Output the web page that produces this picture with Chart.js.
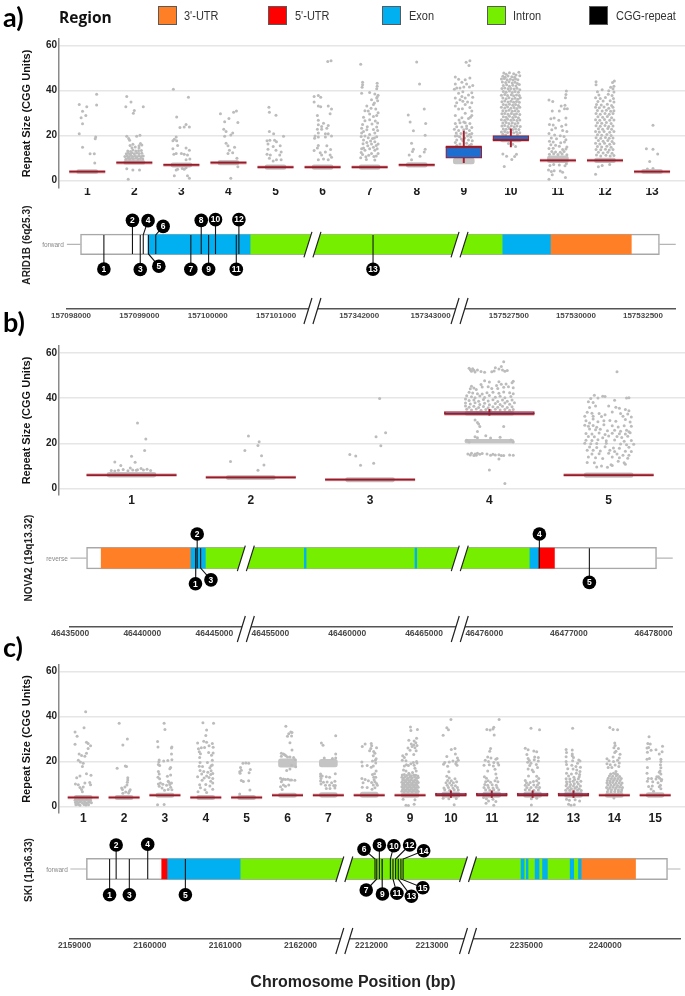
<!DOCTYPE html>
<html><head><meta charset="utf-8">
<script src="https://cdn.jsdelivr.net/npm/chart.js@4/dist/chart.umd.min.js"></script>
<style>
html,body{margin:0;padding:0;background:#fff;width:685px;height:996px;overflow:hidden}
#wrap{position:relative;width:685px;height:996px;font-family:"Liberation Sans",Arial,sans-serif;filter:blur(.35px)}
canvas{position:absolute;left:0;background:transparent}
.t{position:absolute;white-space:nowrap;color:#111}
.p{font-family:Lato,sans-serif;font-weight:700;font-size:27px;left:3px;color:#000}
.sw{position:absolute;top:6px;width:17px;height:17px;border:1px solid #5a5a5a;box-sizing:content-box}
.lg{position:absolute;top:9px;font-size:11px;color:#333;transform:scaleY(1.15)}
.g{font-weight:700;font-size:10px;transform:translate(-50%,-50%) rotate(-90deg);color:#222;letter-spacing:.1px}
.s{font-size:6.5px;color:#888;transform:translate(-50%,-50%)}
</style></head><body><div id="wrap">
<div class="t p" style="top:0px">a)</div>
<div class="t p" style="top:305px">b)</div>
<div class="t p" style="top:630px">c)</div>
<div class="t" style="left:59px;top:6px;font-weight:700;font-size:15.5px;font-family:'Open Sans',sans-serif">Region</div>
<div class="sw" style="left:158px;background:#ff7f27"></div><div class="lg" style="left:184px">3'-UTR</div>
<div class="sw" style="left:268px;background:#ff0000"></div><div class="lg" style="left:295px">5'-UTR</div>
<div class="sw" style="left:382px;background:#00b0f0"></div><div class="lg" style="left:409px">Exon</div>
<div class="sw" style="left:487px;background:#76ee00"></div><div class="lg" style="left:513px">Intron</div>
<div class="sw" style="left:589px;background:#000"></div><div class="lg" style="left:616px">CGG-repeat</div>
<div class="t g" style="left:26px;top:245px">ARID1B (6q25.3)</div>
<div class="t g" style="left:28px;top:558px">NOVA2 (19q13.32)</div>
<div class="t g" style="left:28px;top:870px">SKI (1p36.33)</div>
<div class="t s" style="left:53px;top:244px">forward</div>
<div class="t s" style="left:57px;top:558px">reverse</div>
<div class="t s" style="left:57px;top:869px">forward</div>
<div class="t" style="left:353px;top:982px;transform:translate(-50%,-50%);font-weight:700;font-size:16px;color:#222">Chromosome Position (bp)</div>
</div>
<script>
/* ---------- colours of regions ---------- */
const regionColors={utr3:'#ff7f27',utr5:'#ff0000',exon:'#00b0f0',intron:'#76ee00'};

/* ---------- panel a: repeat sizes (offset within category, value) ---------- */
const aCategories=[1,2,3,4,5,6,7,8,9,10,11,12,13];
const aMedian=[4,8,7,8,6,6,6,7,15,18,9,9,4];
const aBoxCat=[9,10], aBoxLow=[10,18], aBoxHigh=[15,20], aWhiskLow=[8,15], aWhiskHigh=[22,23];
const aBandCat=[1,2,3,4,5,6,7,8,9,10,11,12,13], aBandLow=[3.2,7.3,6,7,5,5,5,6,7.5,17.2,8,8,3.2], aBandHigh=[4.9,9,7.9,9,7,7,7,8,10,19.5,11,10,5];
const a1=[.2,38.4,-.17,33.9,.2,33.6,-.01,32.8,-.1,30.8,-.03,29,-.13,28,-.1,25.3,-.17,20.8,.18,19.4,.17,18.6,-.1,14.9,.06,12,.15,12,.16,7.9];
const a2=[-.16,37.4,-.07,35,-.18,32.9,.19,32.8,0,31.2,-.02,30,-.16,19.7,-.12,18.7,-.1,18,.05,19.7,.12,20.2,-.16,5.3,-.03,4.8,.11,4.8,-.13,.6,
-.18,9.5,-.14,10,-.1,9.5,-.06,10,-.02,9.6,.03,10,.08,9.5,.13,9.9,.18,9.6,-.2,10.8,-.15,11,-.11,10.6,-.07,11.2,-.03,10.7,.02,11,.06,10.6,.1,11.1,.15,10.7,.19,11,
-.17,12,-.13,12.2,-.09,11.8,-.05,12.4,0,12,.05,12.3,.1,12.1,.16,12.2,-.14,13.2,-.08,13,-.03,13.6,.03,13.2,.09,13.3,.15,13.4,-.05,14.6,.1,14.5,.02,15,.16,15.8,.1,15.5,-.09,15.6,-.03,16.2,.13,16.5];
const a3=[-.17,40.6,.15,37.1,-.1,28.3,.1,25,.06,23.9,-.03,23.6,.17,23.8,-.11,19.4,-.15,18.4,-.18,17.7,-.1,17.7,-.08,15.6,-.18,14.2,.1,14.5,.17,13.5,-.11,12.1,-.16,11.8,0,12.1,.06,11.7,.13,11.4,.18,9.6,.1,9.3,-.11,4.8,-.08,5.1,.06,5.1,.1,5.8,-.15,2.2,.13,2.2,.17,1.1,.02,5.4];
const a4=[-.17,29.7,.17,31,.11,30.4,.01,27.6,-.08,26.2,.2,25.9,-.1,22.9,-.05,21.9,.09,21.2,.05,20.3,-.08,19.7,-.05,16.6,-.01,15.5,.13,14.9,.02,13.5,.09,12.4,-.01,12.1,.18,10,.2,6.2,.05,1.1];
const a5=[-.14,32.6,.01,29.1,-.13,30.4,-.13,21.9,-.04,20.8,.17,19.7,-.18,17.7,-.12,18,-.02,18,.02,17.3,-.16,16.3,-.05,15.2,.1,15.5,-.16,14,.01,13.5,-.18,11.8,-.11,11.4,.12,12.7,-.13,10,.09,11.4,.02,9.3,.12,9.3,-.05,8.7];
const a6=[.11,52.9,.18,53.3,-.18,37.4,-.09,37.8,-.04,37.1,-.18,35,-.09,33.2,-.04,32.9,.12,33.2,.19,31.8,.16,29.7,-.11,29,-.09,26.9,.02,25.5,-.09,24.8,-.02,24.1,.12,24.5,-.11,22.9,-.02,22.9,.09,23.3,-.09,21.2,.06,20.8,.12,20.8,-.16,19.8,-.09,19.4,-.17,18.8,.06,19.4,.19,19.8,-.09,15.6,.09,15.5,-.11,14.5,-.18,13.4,-.05,12.4,.06,12.8,.17,13.8,-.02,11.4,.16,11.4,.19,10.4,-.09,9.3,.02,9.6,.12,9.3];
const a7=[-.19,51.7,-.15,43.7,.16,43.3,-.15,42.6,-.16,41.5,.16,42,.15,40.9,-.17,38.9,0,39.2,.18,38,.11,38.5,.15,36.7,.04,36,-.06,33.2,.08,33.9,.13,31.8,-.1,31.1,0,29.6,.15,29,.08,28.5,-.13,28.2,-.1,26.6,0,27.1,-.17,23.3,-.13,21.9,-.06,22.6,0,20.5,.11,21.2,-.17,21.2,-.1,19.8,-.03,19.1,.06,18.7,-.13,18.1,.15,19.5,-.06,17,.04,16.3,.11,17.3,.18,16.3,.08,14.9,-.13,14.5,0,14.2,.16,14.2,-.17,14.2,-.1,13.5,.11,13.5,-.19,10.2,-.08,10.6,.11,9.2,.04,12.1,.18,12.1,
.16,37.2,.17,35.5,.1,34.5,.03,32.2,-.03,31,.18,30.2,.12,26.5,.17,25.6,-.15,25,.05,25.2,.15,23.8,-.05,24,.08,22.7,.17,22.3,-.18,19.6,.1,19,.02,17.6,-.14,16.4,.14,15.6,-.04,15.5,-.18,12.5,-.02,11.3,.09,10.7,-.15,11.6,.14,11,-.07,9.4];
const a8=[0,52.7,.06,43,-.18,29.2,.16,31.8,-.14,26.1,.19,25.4,-.07,22.2,.18,20.2,-.11,16.6,-.07,14,.18,14,-.09,13,.16,12.8,-.16,11.4,.07,10.9,-.11,9.3];
const a9=[.13,53.3,.05,52.6,.11,51.2,-.18,46.1,.13,45.6,-.11,45.1,.03,44.9,-.04,43.7,-.18,43,.06,43,.19,42.3,-.15,41.2,-.08,41.2,0,41.6,-.2,40.6,.12,41.6,-.02,39.5,-.11,38.8,.17,39.1,.1,38.1,-.04,37.4,.03,36.7,.19,37.1,-.18,36.7,-.08,36,-.02,35.3,-.15,34.6,.03,33.9,-.18,33.2,.17,34.6,.13,32.5,-.11,31.8,.17,31,-.18,29,.03,30,-.04,28,.17,29,0,26.1,.1,27.6,-.18,25.4,-.08,25.7,.03,25.7,.13,25.4,-.15,24,-.04,23.8,.06,24.3,.17,23.6,-.2,22.9,-.11,22.3,0,22.6,.12,22.3,-.16,21.2,-.06,21,.05,21.2,.17,21,-.18,19.8,-.09,19.5,.08,19.8,.15,19.4,-.15,18.1,-.02,17.7,.1,18.1,.18,17.7,-.18,17,-.08,16.3,.06,16.6,.16,16.2,-.15,15.6,.12,15.6,-.14,20,.12,20.5,.02,19,-.05,18.5,.06,23.2,-.1,27,.14,28.2,.08,35,-.03,32];
const a10=[-.15,47.8,-.1,47.3,-.03,47.9,.06,47.5,.11,47,.17,48.2,-.17,46.4,-.12,46,-.06,46.5,.02,46.2,.08,46,.19,46.6,-.2,45.2,-.14,45.4,-.08,44.9,-.01,45.1,.05,44.7,.1,45.2,.15,44.8,-.18,43.8,-.11,43.6,-.04,44,.03,43.4,.09,43.7,.14,43.2,-.16,42.3,-.09,42.6,-.03,42,.04,42.4,.11,42.1,.18,42.7,-.19,41,-.13,41.2,-.06,40.8,0,41,.07,40.7,.13,41.1,.19,40.4,-.16,39.6,-.1,39.3,-.03,39.8,.03,39.2,.09,39.6,.16,39.3,-.2,38,-.13,38.3,-.07,37.9,.01,38.2,.06,37.7,.12,38.1,.18,37.8,-.17,36.7,-.1,36.4,-.04,36.9,.03,36.3,.09,36.6,.15,36.2,.2,36.8,-.19,35.1,-.13,35.4,-.06,35,0,35.3,.06,34.9,.12,35.2,.18,34.9,-.16,33.9,-.1,33.6,-.03,34,.04,33.5,.1,33.8,.16,33.4,-.2,32.6,-.13,32.3,-.07,32.7,0,32.2,.07,32.5,.13,32.1,.19,32.6,-.17,31.1,-.1,31,-.04,31.3,.03,30.8,.09,31.1,.16,30.8,-.19,29.7,-.13,29.9,-.06,29.5,.01,29.8,.07,29.4,.12,29.7,.19,29.4,-.16,28.4,-.1,28.2,-.03,28.6,.04,28.1,.1,28.4,.16,28,-.2,27.1,-.13,26.9,-.07,27.3,0,26.8,.06,27.1,.13,26.7,.19,27,-.17,25.6,-.1,25.8,-.04,25.4,.03,25.7,.09,25.3,.15,25.6,-.19,24.3,-.13,24.5,-.06,24.1,.01,24.4,.07,24,.13,24.3,.2,24.1,-.16,23,-.1,22.8,-.03,23.2,.04,22.7,.1,23,.17,22.7,-.2,21.6,-.13,21.8,-.07,21.4,0,21.7,.06,21.3,.12,21.6,.19,21.3,-.17,20.6,-.11,20.3,.14,20.5,-.05,16.5,.04,16.2,.1,15.2,-.17,11.9,.12,11.7,-.09,10.9,.08,10.7,.02,9.4,-.14,6.3];
const a11=[-.19,35.8,-.11,35.2,.18,39.8,.17,38.3,.16,36.8,.15,33.5,.07,33.2,.14,32,-.12,31,.2,32,.03,31,-.15,27.5,-.08,27.8,.02,26.8,.17,27.9,-.18,25,-.1,24.7,.08,24.2,.17,24.8,-.05,23.4,-.13,22.6,.1,22.3,.19,21.8,-.19,21,-.07,20.3,.05,20,.13,19.6,-.14,19,-.03,18.6,.17,18.2,-.18,17.5,-.1,17.2,.06,16.8,.14,17.2,-.15,16,-.05,15.7,.03,15.3,.19,15,-.19,14.3,-.1,14.4,.1,13.8,.17,14.1,-.13,13,-.05,12.7,.05,12.6,.13,13,-.18,11.8,-.09,12,0,11.6,.09,11.9,.19,11.5,.18,7.5,-.17,6.8,-.09,7.2,.03,7,.15,6.6,-.2,4.8,-.14,4.1,-.08,4.4,.05,4.3,.1,3.8,-.12,2.6,.16,1.4,-.19,.6];
const a12=[-.19,44,.2,44.3,.16,43.6,-.19,42.6,.19,42,.12,41.5,.17,40.8,-.06,40.4,.08,40,-.16,39.5,.19,39.4,-.13,38.1,.07,38.4,.15,37.8,-.2,36.8,-.1,36.5,.01,37,.18,36.5,-.15,35.2,-.04,35.4,.11,35.5,.19,35,-.18,33.9,-.08,33.6,.05,34,.14,33.4,-.2,32.6,-.12,32.4,-.02,32.7,.08,32.2,.17,32.6,-.16,31.2,-.06,31,.03,31.3,.12,30.9,.19,31.1,-.19,29.8,-.1,29.5,0,29.9,.09,29.5,.17,29.8,-.15,28.4,-.05,28.2,.05,28.5,.14,28,-.2,27.1,-.11,26.9,-.01,27.2,.1,26.8,.19,27,-.16,25.7,-.07,25.5,.03,25.8,.13,25.4,-.19,24.4,-.1,24.2,0,24.5,.08,24.1,.17,24.3,-.14,23.1,-.05,22.8,.06,23.2,.14,22.8,-.2,21.9,-.12,21.6,-.02,21.9,.1,21.5,.19,21.8,-.16,20.4,-.07,20.2,.04,20.5,.13,20.1,-.19,19.1,-.09,18.9,.01,19.2,.09,18.8,.17,19,-.14,17.8,-.04,17.5,.06,17.8,.15,17.4,-.2,16.6,-.11,16.3,-.01,16.6,.1,16.2,.19,16.5,-.16,15.2,-.07,15,.04,15.3,.13,14.9,-.19,13.9,-.09,13.7,.01,14,.09,13.6,.17,13.8,-.14,12.6,-.04,12.3,.06,12.6,.15,12.2,-.18,11.4,-.09,11,.02,11.3,.11,11,.19,11.2,-.2,2.9,-.14,6.2,-.06,6.8,.1,7.2];
const a13=[.02,24.6,-.12,14.2,.02,14,.12,11.9,-.05,8.5,.02,5.4,-.1,5.2];

/* ---------- panel b ---------- */
const bCategories=[1,2,3,4,5];
const bMedian=[6,5,4,33,6];
const bBoxCat=[4], bBoxLow=[33], bBoxHigh=[34], bWhiskLow=[32.4], bWhiskHigh=[35];
const bBandCat=[1,2,3,4,4,5], bBandLow=[5.1,4,3,32.4,20.2,5], bBandHigh=[7.2,5.8,4.9,34,21.8,7];
const b1=[.05,29,.12,21.9,.11,16.9,0,14.3,-.14,11.8,-.09,10.2,.03,11.7,-.17,8,-.14,7.8,-.11,8.1,-.07,8.5,-.03,7.9,.01,8.2,.05,8.4,.08,8.9,.1,8.2,.13,8.6,.16,8,-.01,9.1,.04,8.1];
const b2=[-.02,23.3,.07,20.7,.06,19.1,-.05,16.9,.09,14.5,-.17,12,.11,10.4,.06,8.1];
const b3=[.08,39.8,.13,24.7,.05,22.9,.09,18.9,-.17,15.1,-.12,14.4,-.08,10.3,.03,11.2];
const b4=[.12,56,-.17,53.2,-.16,52.5,-.14,53,-.15,51.8,-.13,52.3,-.12,51.5,-.1,52.4,-.07,51.7,-.04,51.4,.02,51.6,.04,52,.08,52.8,.11,52.4,.13,51.9,.1,54,.05,53.4,.15,52.2,
.0,47.1,.08,47.2,.2,47.4,.19,46.8,-.07,46,-.04,47.6,-.01,45,.06,45.6,.1,46.1,.14,46.2,-.15,45.2,-.13,44.4,-.16,44.1,-.11,43.8,-.06,44.9,.02,44.2,.16,45,.07,44.2,.12,44.8,.2,44.6,
-.17,42.6,-.14,42.2,-.1,41.9,-.06,41.8,-.02,42.4,.03,42.6,.08,42.1,.12,42.7,.17,42.3,.2,41.9,-.19,41,-.15,40.6,-.12,40.1,-.08,40.9,-.04,40.3,0,41.1,.05,40.4,.09,40.8,.13,40.1,.18,40.7,
-.2,39.6,-.17,38.9,-.13,39.2,-.09,38.6,-.05,39.4,-.01,38.7,.03,39.3,.07,38.5,.11,39.1,.15,38.6,.19,39.2,-.2,37.8,-.16,37.4,-.12,37.9,-.08,37.2,-.04,37.7,0,37.1,.05,37.6,.09,37.2,.13,37.8,.17,37.3,.21,37.9,
-.2,36.5,-.17,35.9,-.13,36.4,-.09,35.8,-.05,36.3,-.01,35.7,.03,36.2,.07,35.9,.11,36.4,.15,35.8,.19,36.2,-.19,35.1,-.15,34.7,-.11,35.2,-.07,34.6,-.03,35,.01,34.6,.05,35.1,.09,34.7,.13,35,.17,34.6,.2,35,
-.19,21.4,.2,20.6,-.17,20.6,.18,21.5,-.1,33.5,-.12,30.3,-.1,29.2,-.09,28.6,-.08,27.5,.12,27.5,-.12,22.9,-.1,25.2,-.03,23.4,.09,22.7,-.1,22.5,.01,22.4,
-.18,15.3,-.16,14.9,-.15,15.6,-.13,14.6,-.12,15.3,-.11,14.7,-.1,15.6,-.08,15.2,-.06,15.5,-.02,15.3,.01,14.8,.03,15.2,.05,14.9,.08,15,.1,14.6,.12,14.6,.08,13.1,.17,14.9,.2,14.8,
0,8.2,.13,2.3];
const b5=[.07,51.6,-.12,41.2,-.09,40,-.15,39.8,-.05,40.8,-.03,40.7,.15,40,.17,40.1,-.17,38.4,-.13,38,.05,39,-.16,35.8,-.11,36.5,.0,36.5,.06,36,.09,35.5,.14,35,.17,34.4,-.18,33.7,-.14,33.3,-.08,33.2,.03,33.9,.1,33.2,.16,33,-.2,32,-.13,32,-.06,31.9,-.03,32.6,.12,32,.19,31.6,-.19,30,-.16,29,-.13,30.8,-.09,29.5,-.04,30,.01,30.1,.06,29.8,.14,30.5,.18,29.4,-.2,28,-.17,27.6,-.13,27.9,-.1,27.1,-.04,28.2,.03,27.8,.08,27.2,.13,27.8,.19,27.6,-.16,26.3,-.11,26,-.07,26.2,-.01,25.6,.05,25.8,.1,25.3,.15,25.8,.17,25.1,-.19,24.4,-.14,24.1,-.08,24.6,-.03,23.9,.03,24.5,.09,24.2,.14,24.1,.18,24.7,-.17,23,-.12,22.9,-.05,22.5,.0,23.2,.07,23,.11,22.6,.16,23.1,-.19,21.4,-.14,21.3,-.09,21.6,-.02,21.2,.05,21.5,.13,20.9,.19,21.3,-.2,20.1,-.15,19.8,-.1,19.9,-.02,20,.1,19.7,.15,19.4,.21,19.6,-.16,18.4,-.1,18.2,-.03,18.5,.04,18,.09,17.8,.17,18.3,-.18,17,-.13,17,-.07,16.6,.01,17,.05,16.4,.14,16.5,.19,16.4,-.14,15.3,-.08,15.4,.0,15.6,.07,15.3,.12,14.7,.17,14.8,-.17,14,-.11,13.6,-.05,13.3,.03,14,.09,13.6,.16,13.4,-.18,11.6,-.12,11.4,.02,10.6,.08,12.1,.13,11.4,.03,10.2,.14,10.8,-.06,10,-.01,9.4,-.1,9.6];

/* ---------- panel c ---------- */
const cCategories=[1,2,3,4,5,6,7,8,9,10,11,12,13,14,15];
const cMedian=[4,4,5,4,4,5,5,5,5,5,5,5,5,5,5];
const cBoxCat=[10,11,12,13], cBoxLow=[5,5,5,5], cBoxHigh=[6,6,6,6], cWhiskLow=[4,4,4,4], cWhiskHigh=[7,7,7,7];
const cBandCat=[1,2,3,4,5,6,6,7,7,8,9,10,11,12,13,14,15], cBandLow=[3,3,4,3,3,4,17.5,4,17.6,4,4,4,4,4,4,4,4], cBandHigh=[5,5,6,5,5,6,21.2,6.2,21,6.4,6,6.5,6.5,6.5,6.5,6,6.2];
const c1=[.06,42.1,-.2,33.1,.02,35,-.15,31.2,-.2,27.7,.08,28.6,.12,28,.18,27,.12,25.8,-.1,23.4,-.04,22.7,.08,23.7,.04,22.3,-.12,20.6,-.07,19.8,0,19.2,-.02,17.8,-.16,12.8,-.08,13.6,.08,14.6,.19,13.9,-.19,10,-.12,9.7,.04,10.4,.16,10.7,.18,9.7,-.08,8.5,-.04,7.6,0,8.7,-.02,6.6,
-.2,2.8,-.15,2.6,-.11,2.9,-.06,2.5,-.02,2.8,.03,2.6,.08,2.9,.13,2.6,.18,2.7,-.19,1.8,-.14,1.6,-.09,1.9,-.02,1.5,.04,1.8,.09,1.6,.14,1.9,.2,1.7,-.18,.8,-.12,.9,-.08,.6,.02,.9,.07,.7,.13,.8];
const c2=[-.12,37,-.17,17,.06,17.8,.03,18,.08,30,-.03,27.3,.09,12.8,.09,11.8,.08,10.8,.07,9.6,-.06,8.2,-.04,7.6,.02,8.7,.15,7.5,.13,6.8,.11,6,.04,6.4,-.03,5.9];
const c3=[-.02,37,0,34.2,-.18,28.9,.17,26.5,.16,26,.16,23.3,-.17,26.5,.17,20.8,.07,20.5,-.03,20.2,-.14,20.7,-.15,19.9,-.16,18.7,-.13,18.2,.14,17.4,.12,16.8,-.16,15.6,-.14,14.4,.14,14,-.17,13,.06,13.5,-.13,12.3,.08,11.2,.1,10.8,.16,10.5,-.16,10,-.11,10.4,-.05,9.9,.04,9.5,.12,9.8,-.14,9,-.07,8.2,.14,8.6,-.01,7.2,.08,7.6,.17,7.4,-.18,.8,-.02,.9];
const c4=[-.07,37.2,.19,37,.02,34,.0,31.6,-.2,28.3,-.05,29,.02,28.6,.18,26.4,.16,28,.08,27,-.18,25.7,-.11,26.1,-.03,26.2,-.16,24.4,.18,23.8,-.13,23.5,.07,24,.14,22.8,-.15,21.8,.16,20.6,-.14,19.6,.04,19.6,.13,18.1,.16,18.5,-.16,17.9,-.08,17.8,.1,17.2,-.14,16,-.05,15.6,.05,15.2,.13,15.9,-.1,14.4,.12,14.2,.17,14.7,-.2,13.2,.02,13.6,-.04,12.7,.08,12.9,.17,12.5,-.09,11.7,.12,11.2,.17,10.4,-.15,9.7,.0,9.8,.1,9.1,-.13,8.3,-.02,7.5,.17,7.7,-.19,6.6,.02,6.2];
const c5=[-.09,19.2,-.02,19.3,.05,19.2,-.15,17.3,-.13,16.1,.09,16.5,-.17,15.4,-.16,14.8,.06,15,-.13,11.6,-.08,11.1,.05,11.5,.08,7.3,-.17,5.6];
const c6=[-.04,35.7,.11,32.9,.08,33.1,.03,32.4,.1,31.4,0,31.2,.06,28.4,.11,25.1,-.15,23.7,-.1,23.4,-.07,23,-.04,22.6,0,22,.06,22,-.15,22.3,.15,21.8,.19,20.8,.2,17.7,.1,18.3,-.02,16,.06,16.7,-.17,12.6,-.13,11.8,-.1,12.2,-.05,12,.01,12.1,.06,11.8,.1,11.8,.18,11.7,-.15,11,-.1,9.6,.03,9.6,-.17,8.8,-.05,9,-.13,7.6];
const c7=[-.17,28.2,.18,31.5,-.13,27.2,.18,23.3,.18,21.6,-.19,14.5,-.19,13.4,-.18,12.4,-.19,11.3,-.15,13.6,-.05,13.2,.03,13,.17,14.6,-.12,10.8,-.03,10.9,.08,10.6,.16,11.2,-.18,10,-.07,9.5,.03,9.4,.13,9.3,.17,9.3,-.05,8,.04,8,.16,8.2,-.1,21.6,.1,21.4];
const c8=[.05,28,-.1,27.8,-.17,26.7,.06,27,.04,25.8,.01,24.8,.11,24.5,.18,26.1,.14,23.7,.1,22.6,.17,21.2,.08,20.2,.15,20.6,-.18,19.8,-.17,18,-.05,18.2,.1,18,.16,19.4,.05,17.5,.17,15.8,.13,14.6,.08,14.2,-.18,12.5,.11,13,.16,13,-.1,12,-.02,11.5,.14,11,.06,10.7,.12,11.9,.18,10.2,-.15,10.6,.1,9.6,.2,9.4,-.17,8.6,-.05,8.4,.14,8.3,.07,7.7];
const c9=[.01,35.4,.18,34.2,.02,33.8,-.03,29.5,.1,29.1,.16,30.4,.14,28.4,.03,27.8,.09,27.3,.17,27.1,.12,26.1,.05,26.7,-.05,26,.0,25,.15,24.8,.09,23.1,-.09,23.2,-.18,22.6,-.14,21.8,-.1,20.4,-.19,20.6,.16,20,.02,19,.08,19.6,.17,19.4,-.09,18.6,-.04,18.2,.1,18.4,-.14,18,.12,17,-.16,16.2,-.1,15.8,-.03,14.8,.06,15.1,.15,15.8,
-.19,14,-.14,14.2,-.08,13.8,-.02,14.2,.03,13.7,.09,14,.14,13.9,.19,13.6,-.2,13,-.16,12.7,-.12,13.1,-.06,12.6,-.01,13,.05,12.7,.11,13.1,.16,12.6,.2,12.9,-.18,11.9,-.13,11.6,-.08,12,-.03,11.6,.02,11.9,.07,11.5,.12,11.8,.17,11.5,-.2,10.8,-.15,10.6,-.1,11,-.05,10.5,0,10.8,.06,10.5,.1,10.9,.15,10.5,.2,10.7,-.18,9.8,-.13,9.5,-.08,9.9,-.03,9.5,.02,9.8,.07,9.4,.12,9.7,.17,9.4,-.2,8.8,-.15,8.5,-.1,8.9,-.05,8.5,0,8.7,.05,8.4,.1,8.8,.15,8.4,.2,8.6,-.18,7.7,-.13,7.5,-.08,7.8,-.03,7.4,.02,7.7,.07,7.4,.12,7.7,.17,7.4,-.2,6.8,-.15,6.6,-.1,6.8,-.05,6.5,0,6.8,.05,6.5,.1,6.8,.15,6.5,.2,6.7,-.17,3.2,.1,1,-.1,.6,-.04,.4,.12,3];
const c10=[0,38.7,-.1,35,-.06,34.1,-.19,31.7,.1,25.8,.01,25.3,.11,23.4,-.1,22.2,.16,21.6,.18,20.6,.05,20.2,-.15,19.6,-.04,19.8,.13,19.8,-.18,18.8,-.08,17.9,.12,19,.15,18.4,-.05,15.5,-.1,13.5,-.04,12.7,-.08,11.6,.01,11.5,.1,12.3,-.12,10.6,-.03,10.4,.06,10.6,.14,11,-.09,9.4,.02,9.4,.11,9.2,-.17,8.2,-.06,8.4,.05,8.2,.16,8.4,-.15,7.4,-.03,7.2,.08,7.4,.18,7.3,-.19,3.7,-.05,3.4,.13,3.5,.08,.8];
const c11=[.18,38.7,.05,35.2,.03,34.5,-.04,34,-.12,34.2,.06,31.8,-.03,25.8,-.05,24.6,-.1,22,-.02,21.6,.1,21,.13,21.4,-.16,20.6,-.08,20,.05,19.6,.15,19.4,-.19,18.4,-.06,18.6,.04,18,.17,18.5,.08,16.6,-.1,15.8,.1,14.5,-.18,13.2,-.13,12.6,.12,12.7,-.15,11,-.09,11.4,-.03,10.8,.08,11.5,.15,11,-.17,9.8,-.1,9.4,.01,9.7,.11,9.4,-.19,8.4,-.08,8.4,.03,8.2,.13,8.5,-.15,7.4,-.05,7.3,.05,7.5,.17,7.4,-.2,4,-.13,3.4,.03,3.2,-.08,2.4,-.14,1.4,.1,2.2,.05,.6];
const c12=[-.04,34.8,.17,34.1,-.18,25.9,-.11,25.2,.03,24.7,.1,24.4,-.14,23.1,.05,22,.14,21.8,-.11,21.3,.04,20.8,-.08,20.5,.14,20.2,-.12,19.7,-.04,19.2,.09,18.7,-.07,18.2,.12,17.3,-.11,16.7,-.01,16.2,.02,15.4,-.1,13.6,.1,13.4,.15,12.5,-.18,11.6,.02,11.1,.1,11.4,-.15,10.6,-.06,10.7,.15,10.5,-.18,9.4,-.1,9.7,.03,9.6,.12,9.6,-.14,8.4,-.04,8.5,.09,8.6,.17,8.4,-.18,7.4,-.08,7.5,.03,7.2,.14,7.5,-.03,3.4,.1,3.7,-.03,.7];
const c13=[-.02,34.8,-.18,25.4,-.03,25.1,-.17,24,-.03,23.4,-.03,22.6,-.18,22.1,0,21.8,-.18,20,-.02,20.3,.13,20.7,.16,20.2,.1,19.2,-.17,18.7,-.04,18.4,.06,17.8,.17,17.5,-.14,16.8,-.01,16.7,.08,16.2,.16,15.6,-.17,14.8,-.05,14.5,.07,14.8,.15,14.2,-.12,13.6,.01,13,.14,13.2,-.18,12.3,-.09,12.2,.03,12,.12,12.3,-.17,11,-.09,11,-.01,11.2,.09,10.9,.18,11.2,-.16,10,-.07,9.8,.02,10.1,.12,10,-.18,9.2,-.09,8.9,0,9.1,.08,8.8,.17,9.1,-.14,8.1,-.05,7.9,.04,8.1,.14,7.9,-.19,7.2,-.09,7.2,.01,7,.1,7.3,.19,7.1,-.17,3.2,-.1,2.8,.04,3,.15,2.4,-.12,1,-.06,.6,.02,.8];
const c14=[-.11,35.1,-.03,34.2,.08,34.1,.01,28.3,.02,27.1,-.01,26.1,.1,25.8,.04,24.6,.01,24,.14,23.2,-.18,21.2,-.03,22,.12,21.6,-.13,20.4,-.02,20,.08,20.6,-.18,19,-.1,18.6,.02,18.5,.12,19.4,-.15,17.4,-.06,17.3,.11,17.8,.04,15.6,-.02,14.8,-.09,14.4,.03,14.5,.08,14.2,-.12,13.6,-.04,13.4,.05,13.6,.13,13.3,-.15,12.6,-.07,12.5,.01,12.4,.09,12.5,.17,12.4,-.17,11.6,-.1,11.4,-.02,11.6,.06,11.4,.14,11.6,-.18,10.6,-.11,10.4,-.04,10.7,.04,10.3,.12,10.6,.19,10.4,-.16,9.6,-.08,9.4,0,9.6,.08,9.3,.16,9.6,-.19,8.5,-.11,8.4,-.03,8.6,.05,8.4,.13,8.6,.2,8.4,-.15,7.6,-.07,7.4,.02,7.6,.1,7.3,.18,7.5,-.17,6.6,-.08,6.5,.01,6.7,.1,6.5,.17,6.6,-.01,3.8];
const c15=[-.15,31,-.18,28,-.12,27.8,-.2,26,-.16,26.2,.18,26.8,-.1,25,.02,25.2,-.19,24.1,.17,24.4,-.2,21,-.14,21.4,.1,23.3,.14,21,.14,20,.13,18.6,.14,17.2,-.19,17.4,.12,15.8,.1,15.2,-.2,14.8,.14,14.4,.08,13.2,.04,13.2,-.17,12.4,-.09,12.4,.02,12.2,.11,12.6,.16,12,-.19,11.2,-.06,11,.15,11.4,.07,10.6,.13,9.5,-.16,8.9,-.07,9.1,.1,8.8,-.1,7.8,.14,7.9,-.04,6.8];

/* ---------- gene models (bp) ---------- */
const aSegMin=[157097937,157341345,157525661], aSegMax=[157101532,157343406,157533726], aSegWeight=[568,340,500];
const aTicks=[157098000,157099000,157100000,157101000,157342000,157343000,157527500,157530000,157532500];
const aTranscript=[157098139,157533113];
const aRegionKind=['exon','intron','exon','utr3'];
const aRegionStart=[157099127,157100620,157527274,157529048];
const aRegionEnd=[157100620,157527274,157529048,157532065];
const aRepeatBp=[157098481,157098899,157099013,157099057,157099133,157099240,157099753,157099905,157100013,157100114,157100418,157100456,157342194];
const aLabelBp=[157098481,157098899,157099013,157099127,157099285,157099348,157099753,157099905,157100013,157100114,157100418,157100456,157342194];
const aLabelLevel=[-24.5,24,-25,23.7,-21.7,18,-24.7,24,-24.7,24.7,-24.7,24.7,-24.7];

const bSegMin=[46435000,46453403,46475710], bSegMax=[46447179,46467325,46478229], bSegWeight=[408,497,495];
const bTicks=[46435000,46440000,46445000,46455000,46460000,46465000,46476000,46477000,46478000];
const bTranscript=[46436134,46478036];
const bRegionKind=['utr3','exon','intron','exon','exon','exon','utr5'];
const bRegionStart=[46437149,46443328,46444373,46457213,46464412,46476539,46476636];
const bRegionEnd=[46443328,46444373,46476539,46457325,46464524,46476636,46476829];
const bRepeatBp=[46443716,46443806,46444045,46476651,46477242];
const bLabelBp=[46443687,46443806,46444761,46476651,46477242];
const bLabelLevel=[-25.7,24.3,-21.7,24.3,-24.3];

const cSegMin=[2158942,2211551,2231306], cSegMax=[2162581,2213594,2244778], cSegWeight=[625,282,485];
const cTicks=[2159000,2160000,2161000,2162000,2212000,2213000,2235000,2240000];
const cTranscript=[2159157,2243944];
const cRegionKind=['utr5','exon','intron','exon','exon','exon','exon','exon','exon','utr3'];
const cRegionStart=[2160157,2160227,2161198,2234667,2235000,2235556,2236028,2237778,2238306,2238472];
const cRegionEnd=[2160227,2161198,2238472,2234861,2235111,2235806,2236333,2238000,2238472,2241917];
const cRepeatBp=[2159465,2159552,2159727,2159971,2160471,2212058,2212087,2212130,2212174,2212312,2212355,2212399,2212442,2212522,2212486];
const cLabelBp=[2159465,2159552,2159727,2159971,2160471,2211877,2211913,2212130,2212181,2212370,2212420,2212630,2212659,2212862,2212848];
const cLabelLevel=[-25.7,24,-25.7,24.7,-25.7,19.7,-21,24,-25,23.3,-24.3,24,-27.3,18.3,-18.7];

/* ---------- drawing ---------- */
const FONT='"Liberation Sans",Arial,sans-serif';
const wrap=document.getElementById('wrap');
function addCanvas(top,h){const c=document.createElement('canvas');c.width=685;c.height=h;c.style.top=top+'px';wrap.appendChild(c);return c.getContext('2d');}
function fixedTicks(vals){return s=>{s.ticks=vals.map(v=>({value:v}));};}

function repeatChart(o){
  const pts=[];
  o.points.forEach((arr,i)=>{for(let k=0;k<arr.length;k+=2)pts.push({x:o.cats[i]+arr[k],y:arr[k+1]});});
  const med=o.cats.map((c,i)=>({x:c,y:o.median[i]}));
  const RED='#a31f2e';
  new Chart(addCanvas(o.top,o.h),{
    type:'scatter',
    data:{datasets:[
      {type:'bar',grouped:false,order:7,data:o.bandCat.map((c,i)=>({x:c,y:[o.bandLow[i],o.bandHigh[i]]})),backgroundColor:'#c4c4c4',barThickness:o.bandPx,borderRadius:2.5,borderSkipped:false},
      {order:6,data:pts,pointRadius:1.5,pointStyle:'circle',backgroundColor:'#bcbcbc',borderWidth:0,pointHoverRadius:1.5},
      {type:'bar',grouped:false,order:4,data:o.boxCat.map((c,i)=>({x:c,y:[o.whiskLow[i],o.whiskHigh[i]]})),backgroundColor:RED,barThickness:1.3},
      {type:'bar',grouped:false,order:3,data:o.boxCat.map((c,i)=>({x:c,y:[o.boxLow[i],o.boxHigh[i]]})),backgroundColor:'#1c6fd0',borderColor:RED,borderWidth:1.2,borderSkipped:false,barThickness:o.boxPx},
      {order:2,data:med,pointStyle:'line',pointRadius:o.boxPx/2,pointBorderWidth:3.4,borderColor:'rgba(170,50,60,.35)',backgroundColor:'transparent'},
      {order:1,data:med,pointStyle:'line',pointRadius:o.boxPx/2,pointBorderWidth:1.7,borderColor:'#991b28',backgroundColor:'transparent'}
    ]},
    options:{
      responsive:false,animation:false,events:[],
      layout:{autoPadding:false,padding:0},
      plugins:{legend:{display:false},tooltip:{enabled:false}},
      scales:{
        x:{type:'linear',offset:false,min:o.xMin,max:o.xMax,grid:{display:false,offset:false,drawTicks:false},border:{display:false},
           afterBuildTicks:fixedTicks(o.cats),afterFit:s=>{s.height=o.h-o.areaH;},
           ticks:{autoSkip:false,maxRotation:0,padding:o.tickPad,color:'#1c1c1c',font:{family:FONT,size:12,weight:'bold'},callback:v=>String(v)}},
        y:{type:'linear',min:o.yMin,max:o.yMax,
           afterBuildTicks:fixedTicks([0,20,40,60]),afterFit:s=>{s.width=59;},
           grid:{color:'#e6e6e6',lineWidth:1.5,drawTicks:false},
           border:{color:'#8a8a8a',width:1.5},
           ticks:{padding:2,color:'#222',font:{family:FONT,size:10,weight:'bold'},callback:v=>String(v)},
           title:{display:true,text:'Repeat Size (CGG Units)',color:'#111',padding:{top:20,bottom:0},font:{family:FONT,size:11,weight:'bold'}}}
      }
    }
  });
}

repeatChart({top:31,h:174,areaH:157,tickPad:-4,cats:aCategories,points:[a1,a2,a3,a4,a5,a6,a7,a8,a9,a10,a11,a12,a13],median:aMedian,
  boxCat:aBoxCat,boxLow:aBoxLow,boxHigh:aBoxHigh,whiskLow:aWhiskLow,whiskHigh:aWhiskHigh,
  bandCat:aBandCat,bandLow:aBandLow,bandHigh:aBandHigh,bandPx:21,boxPx:36,xMin:.4,xMax:13.7,yMin:-3.25,yMax:62.95});
repeatChart({top:338,h:174,areaH:157,tickPad:-2,cats:bCategories,points:[b1,b2,b3,b4,b5],median:bMedian,
  boxCat:bBoxCat,boxLow:bBoxLow,boxHigh:bBoxHigh,whiskLow:bWhiskLow,whiskHigh:bWhiskHigh,
  bandCat:bBandCat,bandLow:bBandLow,bandHigh:bBandHigh,bandPx:49,boxPx:90,xMin:.392,xMax:5.64,yMin:-2.8,yMax:63});
repeatChart({top:657,h:174,areaH:156,tickPad:-2,cats:cCategories,points:[c1,c2,c3,c4,c5,c6,c7,c8,c9,c10,c11,c12,c13,c14,c15],median:cMedian,
  boxCat:cBoxCat,boxLow:cBoxLow,boxHigh:cBoxHigh,whiskLow:cWhiskLow,whiskHigh:cWhiskHigh,
  bandCat:cBandCat,bandLow:cBandLow,bandHigh:cBandHigh,bandPx:18,boxPx:31,xMin:.407,xMax:15.73,yMin:-2.9,yMax:62.95});

const breakPlugin={id:'breaks',afterDraw(chart){
  const ctx=chart.ctx,cy=chart.scales.y.getPixelForValue(0),ay=chart.chartArea.bottom;
  [chart.scales.x0.right,chart.scales.x1.right].forEach(x=>{
    [[cy,13,12.5],[ay,15,11]].forEach(([c,dn,up])=>{
      ctx.save();
      ctx.beginPath();ctx.moveTo(x-8.5,c+dn);ctx.lineTo(x-.5,c-up);ctx.lineTo(x+8.5,c-up);ctx.lineTo(x+.5,c+dn);ctx.closePath();
      ctx.fillStyle='#fff';ctx.fill();
      ctx.strokeStyle='#222';ctx.lineWidth=1.2;
      ctx.beginPath();ctx.moveTo(x-8.5,c+dn);ctx.lineTo(x-.5,c-up);ctx.moveTo(x+.5,c+dn);ctx.lineTo(x+8.5,c-up);ctx.stroke();
      ctx.restore();
    });
  });
}};
const numberPlugin={id:'numbers',afterDraw(chart){
  const ctx=chart.ctx;
  chart.data.datasets.forEach((d,i)=>{
    if(d.repeatNo===undefined)return;
    const p=chart.getDatasetMeta(i).data[2];
    ctx.save();ctx.fillStyle='#fff';ctx.font='bold 8.5px '+FONT;ctx.textAlign='center';ctx.textBaseline='middle';
    ctx.fillText(String(d.repeatNo),p.x,p.y+.5);ctx.restore();
  });
}};

function geneChart(g){
  const seg=bp=>{for(let i=0;i<3;i++)if(bp>=g.segMin[i]&&bp<=g.segMax[i])return i;return 0;};
  const pieces=(s,e)=>{const out=[];for(let i=0;i<3;i++){const a=Math.max(s,g.segMin[i]),b=Math.min(e,g.segMax[i]);if(a<b)out.push([i,a,b]);}return out;};
  const ds=[];
  ds.push({type:'line',order:20,xAxisID:'x0',data:[{x:g.segMin[0],y:0},{x:g.transcript[0],y:0}],borderColor:'#b5b5b5',borderWidth:1.2,pointRadius:0});
  ds.push({type:'line',order:20,xAxisID:'x2',data:[{x:g.transcript[1],y:0},{x:g.segMax[2],y:0}],borderColor:'#b5b5b5',borderWidth:1.2,pointRadius:0});
  pieces(g.transcript[0],g.transcript[1]).forEach(([i,a,b])=>ds.push({type:'bar',grouped:false,indexAxis:'y',order:15,xAxisID:'x'+i,data:[{x:[a,b],y:0}],backgroundColor:'#fff',borderColor:'#a8a8a8',borderWidth:1.5,borderSkipped:false,barThickness:g.barPx+1.5}));
  g.kinds.forEach((k,r)=>pieces(g.starts[r],g.ends[r]).forEach(([i,a,b])=>ds.push({type:'bar',grouped:false,indexAxis:'y',order:k==='intron'?12:10,xAxisID:'x'+i,data:[{x:[a,b],y:0}],backgroundColor:regionColors[k],barThickness:g.barPx})));
  g.repeats.forEach((bp,i)=>{
    const lvl=g.levels[i],far=lvl>0?-g.barPx/2:g.barPx/2,near=lvl>0?g.barPx/2:-g.barPx/2;
    ds.push({type:'line',order:1,repeatNo:i+1,xAxisID:'x'+seg(bp),
      data:[{x:bp,y:far},{x:bp,y:near},{x:g.labels[i],y:lvl}],
      borderColor:'#151515',borderWidth:1.1,backgroundColor:'#000',pointBackgroundColor:'#000',pointBorderWidth:0,
      pointRadius:c=>c.dataIndex===2?6.8:0});
  });
  const scales={y:{type:'linear',display:false,offset:false,grid:{offset:false},min:g.yMin,max:g.yMax}};
  [0,1,2].forEach(i=>{scales['x'+i]={type:'linear',position:'bottom',stack:'axis',stackWeight:g.weights[i],min:g.segMin[i],max:g.segMax[i],bounds:'data',
    grid:{display:false,drawTicks:false},border:{display:true,color:'#555',width:1.6},
    afterBuildTicks:fixedTicks(g.ticks.filter(t=>t>=g.segMin[i]&&t<=g.segMax[i])),
    afterFit:s=>{s.height=g.h-g.areaH;},
    ticks:{autoSkip:false,maxRotation:0,padding:2,color:'#484848',font:{family:FONT,size:g.tickPx,weight:'bold'},callback:v=>String(v)}};});
  new Chart(addCanvas(g.top,g.h),{type:'scatter',data:{datasets:ds},plugins:[breakPlugin,numberPlugin],
    options:{responsive:false,animation:false,events:[],layout:{autoPadding:false,padding:{left:g.left,right:g.right,top:0,bottom:0}},
      plugins:{legend:{display:false},tooltip:{enabled:false}},scales}});
}
geneChart({top:205,h:122,areaH:104,left:66.7,right:.8,yMin:-64.4,yMax:39.3,barPx:19,tickPx:8,segMin:aSegMin,segMax:aSegMax,weights:aSegWeight,ticks:aTicks,transcript:aTranscript,kinds:aRegionKind,starts:aRegionStart,ends:aRegionEnd,repeats:aRepeatBp,labels:aLabelBp,levels:aLabelLevel});
geneChart({top:515,h:130,areaH:112,left:70.2,right:.8,yMin:-69,yMax:43.3,barPx:20,tickPx:8.5,segMin:bSegMin,segMax:bSegMax,weights:bSegWeight,ticks:bTicks,transcript:bTranscript,kinds:bRegionKind,starts:bRegionStart,ends:bRegionEnd,repeats:bRepeatBp,labels:bLabelBp,levels:bLabelLevel});
geneChart({top:825,h:132,areaH:114,left:70.2,right:4.3,yMin:-70,yMax:44,barPx:20,tickPx:8.5,segMin:cSegMin,segMax:cSegMax,weights:cSegWeight,ticks:cTicks,transcript:cTranscript,kinds:cRegionKind,starts:cRegionStart,ends:cRegionEnd,repeats:cRepeatBp,labels:cLabelBp,levels:cLabelLevel});
</script></body></html>
